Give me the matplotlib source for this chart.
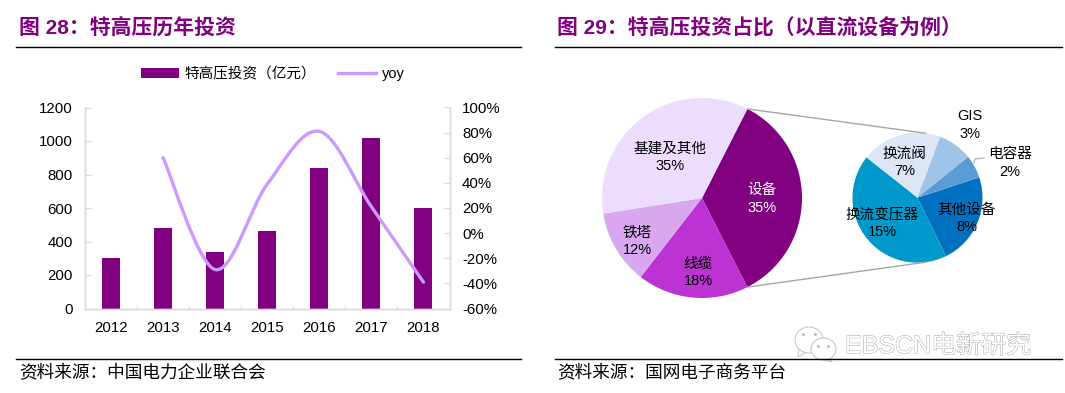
"""Two panels: UHV investment by year (bars + yoy line) and pie-of-pie cost split."""

import matplotlib
matplotlib.use("Agg")
import matplotlib.pyplot as plt
import matplotlib.patheffects as pe
import numpy as np
from matplotlib.lines import Line2D
from matplotlib.patches import ConnectionPatch, Ellipse, PathPatch, Patch, Polygon
from matplotlib.path import Path

W, H = 1065, 393
PURPLE = "#800080"
LILAC = "#CC99FF"
GREY = "#D9D9D9"

years = ["2012", "2013", "2014", "2015", "2016", "2017", "2018"]
invest = [300, 478, 335, 465, 840, 1015, 600]
yoy_years = [1, 2, 3, 4, 5, 6]
yoy = [0.60, -0.29, 0.39, 0.81, 0.21, -0.39]

main_values = [35, 18, 12, 35]
main_colors = [PURPLE, "#BC32D2", "#D9A7EF", "#ECDCFD"]
sub_values = [8, 15, 7, 3, 2]
sub_colors = ["#0070C0", "#0099CC", "#DCE6F5", "#9FC4E7", "#5B9BD5"]

plt.rcParams["font.family"] = ["Liberation Sans", "Noto Sans CJK SC"]


def px_axes(fig, x0, y0, x1, y1):
    # axes from pixel box, y measured from the top of the image
    return fig.add_axes([x0 / W, 1 - y1 / H, (x1 - x0) / W, (y1 - y0) / H])


def smooth_path(xs, ys):
    # same kind of smoothing as an office chart: bezier through the data points
    pts = np.column_stack([xs, ys])
    verts = [pts[0]]
    codes = [Path.MOVETO]
    for i in range(len(pts) - 1):
        prev = pts[max(i - 1, 0)]
        nxt = pts[min(i + 2, len(pts) - 1)]
        verts += [pts[i] + (pts[i + 1] - prev) / 6, pts[i + 1] - (nxt - pts[i]) / 6, pts[i + 1]]
        codes += [Path.CURVE4] * 3
    return Path(verts, codes)


def draw_bars(fig):
    ax = px_axes(fig, 85, 107.5, 449.5, 308.5)
    x = np.arange(len(years))
    ax.bar(x, invest, width=0.345, color=PURPLE, zorder=2)
    ax.set_xlim(-0.5, len(years) - 0.5)
    ax.set_ylim(0, 1200)
    ax.set_yticks(range(0, 1201, 200))
    ax.set_xticks(x, years)
    ax.set_xticks(x[:-1] + 0.5, minor=True)
    ax.tick_params(axis="x", which="major", length=0, labelsize=10.8, pad=9)
    ax.tick_params(axis="x", which="minor", direction="in", length=3, color=GREY)
    ax.tick_params(axis="y", direction="in", length=4, color=GREY, labelsize=10.8, pad=9)

    ax2 = ax.twinx()
    ax2.set_ylim(-0.6, 1.0)
    ax2.set_yticks(np.arange(-0.6, 1.01, 0.2))
    ax2.set_yticklabels(["-60%", "-40%", "-20%", "0%", "20%", "40%", "60%", "80%", "100%"])
    ax2.tick_params(axis="y", direction="in", length=4, color=GREY, labelsize=10.8, pad=9)
    ax2.add_patch(PathPatch(smooth_path(yoy_years, yoy), fill=False, edgecolor=LILAC,
                            linewidth=2.4, capstyle="round", zorder=3))
    for a in (ax, ax2):
        a.spines["top"].set_visible(False)
        for side in ("left", "right", "bottom"):
            a.spines[side].set_color(GREY)
            a.spines[side].set_linewidth(1.0)

    handles = [Patch(facecolor=PURPLE), Line2D([], [], color=LILAC, linewidth=2.4)]
    fig.legend(handles, ["特高压投资\uff08亿元\uff09", "yoy"], ncol=2, frameon=False, fontsize=10.5,
               loc="center", bbox_to_anchor=(273 / W, 1 - 74 / H), handlelength=2.6,
               handleheight=0.6, columnspacing=1.5, handletextpad=0.4)


def draw_pies(fig):
    lim = 1.05
    r1, r2 = 100, 65
    cx1, cy1, cx2, cy2 = 702, 198, 917.5, 197.7
    ax1 = px_axes(fig, cx1 - r1 * lim, cy1 - r1 * lim, cx1 + r1 * lim, cy1 + r1 * lim)
    ax2 = px_axes(fig, cx2 - r2 * lim, cy2 - r2 * lim, cx2 + r2 * lim, cy2 + r2 * lim)
    wedges, _ = ax1.pie(main_values, colors=main_colors, startangle=63, counterclock=False)
    ax2.pie(sub_values, colors=sub_colors, startangle=18.2, counterclock=False)
    for a in (ax1, ax2):
        a.set_xlim(-lim, lim)
        a.set_ylim(-lim, lim)

    # connectors run from the edges of the 设备 wedge to the small pie
    top, bottom = np.deg2rad(wedges[0].theta2), np.deg2rad(wedges[0].theta1)
    side = np.deg2rad(82.7)
    for a1, a2 in ((top, side), (bottom, -side)):
        fig.add_artist(ConnectionPatch(
            (np.cos(a1), np.sin(a1)), (np.cos(a2), np.sin(a2)),
            "data", "data", axesA=ax1, axesB=ax2, color="#A6A6A6", linewidth=1.0))


def draw_text(fig):
    ov = fig.add_axes([0, 0, 1, 1], facecolor="none")
    ov.set_xlim(0, W)
    ov.set_ylim(H, 0)
    ov.axis("off")

    # watermark sits under the rules
    halo = [pe.withStroke(linewidth=0.7, foreground="#A8A8A8")]
    ov.text(845, 346, "EBSCN电新研究", fontsize=18, color="white", va="center", path_effects=halo)
    bubble = dict(facecolor="white", edgecolor="#C8C8C8", linewidth=0.8)
    ov.add_patch(Polygon([(799, 347), (798, 357), (808, 351)], **bubble))
    ov.add_patch(Ellipse((809, 340), 28, 26, **bubble))
    ov.add_patch(Polygon([(828, 356), (832, 362), (822, 359)], **bubble))
    ov.add_patch(Ellipse((823.5, 349), 25, 22, **bubble))
    ov.plot([803, 815, 818, 828], [334, 334, 346, 346], ls="none", marker="o", ms=1.2, color="#C0C0C0")

    for x0, x1 in ((16, 521), (555, 1062)):
        ov.plot([x0, x1], [47, 47], color="black", lw=1.0)
        ov.plot([x0, x1], [359, 359], color="black", lw=1.0)

    ov.text(19, 27, "图 28\uff1a特高压历年投资", fontsize=15, fontweight="bold", color=PURPLE, va="center")
    ov.text(557, 27, "图 29\uff1a特高压投资占比\uff08以直流设备为例\uff09", fontsize=15, fontweight="bold",
            color=PURPLE, va="center")
    ov.text(19, 373, "资料来源\uff1a中国电力企业联合会", fontsize=12.7, va="center")
    ov.text(557, 373, "资料来源\uff1a国网电子商务平台", fontsize=12.7, va="center")

    pie_labels = [
        (762, 199, "设备\n35%", "white"),
        (670, 157, "基建及其他\n35%", "black"),
        (637, 241, "铁塔\n12%", "black"),
        (698, 272, "线缆\n18%", "black"),
        (970, 125, "GIS\n3%", "black"),
        (1010, 163, "电容器\n2%", "black"),
        (904.5, 162, "换流阀\n7%", "black"),
        (967, 218.5, "其他设备\n8%", "black"),
        (882, 223.5, "换流变压器\n15%", "black"),
    ]
    for x, y, label, color in pie_labels:
        ov.text(x, y, label, fontsize=10.5, color=color, ha="center", va="center", linespacing=1.3)
    ov.plot([984, 975, 974], [158, 159, 163], color="#A6A6A6", lw=0.8)


def main():
    fig = plt.figure(figsize=(W / 100, H / 100), dpi=100, facecolor="white")
    draw_bars(fig)
    draw_pies(fig)
    draw_text(fig)
    fig.savefig("out.png", dpi=100)


if __name__ == "__main__":
    main()
